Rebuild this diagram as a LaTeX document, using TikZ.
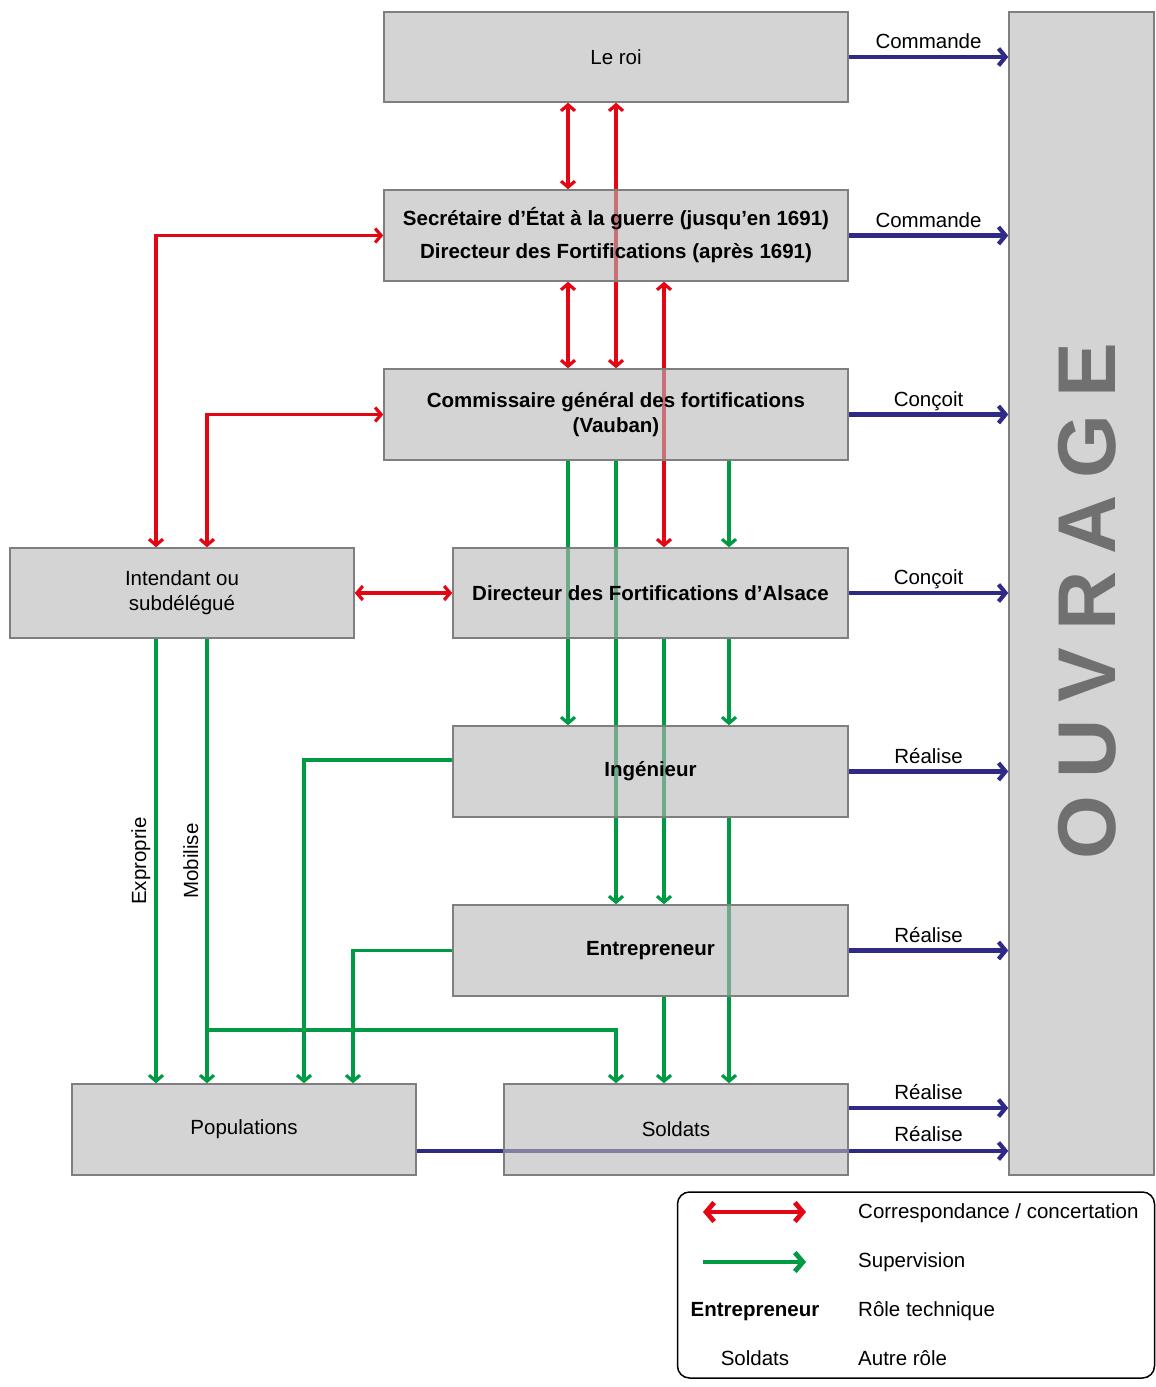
\documentclass[tikz,border=0pt]{standalone}
\usepackage{fontspec}
\setmainfont{Liberation Sans}
\usetikzlibrary{arrows.meta,backgrounds,calc}
\definecolor{redc}{HTML}{E30613}
\definecolor{greenc}{HTML}{009A44}
\definecolor{bluec}{HTML}{2E2A85}
\definecolor{boxf}{HTML}{B7B7B7}
\definecolor{boxd}{HTML}{7F7F7F}
\definecolor{ouvc}{HTML}{707070}
\newcommand\dfs{\fontsize{20.5}{25}\selectfont}
\begin{document}
\begin{tikzpicture}[x=1pt,y=-1pt,
  box/.style={draw=boxd, line width=1.5pt, fill=boxf, fill opacity=0.6, text opacity=1, draw opacity=1, inner sep=0pt, align=center, font=\dfs},
  bbox/.style={box, font=\dfs\bfseries},
  corr/.style={draw=redc, line width=3.2pt, >={Straight Barb[length=6pt,width=14pt]}, <->},
  sup/.style={draw=greenc, line width=3.2pt, >={Straight Barb[length=6pt,width=14pt]}, ->},
  act/.style={draw=bluec, line width=4.2pt, >={Straight Barb[length=7pt,width=17pt]}, ->},
  lab/.style={font=\dfs, anchor=base, yshift=8.5pt},
  txt/.style={font=\dfs, inner sep=0pt},
]
\useasboundingbox (0,0) rectangle (1156,1387);

% boxes
\node[box,  minimum width=464pt, minimum height=90pt] (roi) at (616,57) {Le roi};
\node[bbox, minimum width=464pt, minimum height=91pt] (sec) at (616,235.5) {Secrétaire d’État à la guerre (jusqu’en 1691)\\[8pt]Directeur des Fortifications (après 1691)};
\node[bbox, minimum width=464pt, minimum height=91pt] (com) at (616,414.5) {Commissaire général des fortifications\\(Vauban)};
\node[box,  minimum width=344pt, minimum height=90pt] (int) at (182,593) {Intendant ou\\subdélégué};
\node[bbox, minimum width=395pt, minimum height=90pt] (dir) at (650.5,593) {Directeur des Fortifications d’Alsace};
\node[bbox, minimum width=395pt, minimum height=91pt] (ing) at (650.5,771.5) {Ingénieur};
\node[bbox, minimum width=395pt, minimum height=91pt] (ent) at (650.5,950.5) {Entrepreneur};
\node[box,  minimum width=344pt, minimum height=91pt] (pop) at (244,1129.5) {Populations};
\node[box,  minimum width=344pt, minimum height=91pt] (sol) at (676,1129.5) {Soldats};
\node[box,  minimum width=145pt, minimum height=1163pt] (ouv) at (1081.5,593.5) {};
\node[rotate=90, inner sep=0pt, text=ouvc, font=\fontsize{82}{82}\selectfont\bfseries] (ouvt) at (1087.5,601)
  {O\hspace{17pt}U\hspace{17pt}V\hspace{17pt}R\hspace{17pt}A\hspace{17pt}G\hspace{17pt}E};

\coordinate (j1) at (207,1030);

\begin{scope}[on background layer]
% red: correspondance
\draw[corr] ($(roi.south)+(-48,0)$) -- ($(sec.north)+(-48,0)$);
\draw[corr] (roi.south) -- (com.north);
\draw[corr] ($(sec.south)+(-48,0)$) -- ($(com.north)+(-48,0)$);
\draw[corr] ($(sec.south)+(48,0)$) -- ($(dir.north)+(13.5,0)$);
\draw[corr] (sec.west) -| ($(int.north)+(-26,0)$);
\draw[corr] (com.west) -| ($(int.north)+(25,0)$);
\draw[corr] (int.east) -- (dir.west);
% green: supervision
\draw[sup] ($(com.south)+(-48,0)$) -- ($(ing.north)+(-82.5,0)$);
\draw[sup] (com.south) -- ($(ent.north)+(-34.5,0)$);
\draw[sup] ($(com.south)+(113,0)$) -- ($(dir.north)+(78.5,0)$);
\draw[sup] ($(dir.south)+(78.5,0)$) -- ($(ing.north)+(78.5,0)$);
\draw[sup] ($(dir.south)+(13.5,0)$) -- ($(ent.north)+(13.5,0)$);
\draw[sup] ($(ing.south)+(78.5,0)$) -- ($(sol.north)+(53,0)$);
\draw[sup] ($(ent.south)+(13.5,0)$) -- ($(sol.north)+(-12,0)$);
\draw[sup] ($(int.south)+(-26,0)$) -- ($(pop.north)+(-88,0)$);
\draw[sup] ($(int.south)+(25,0)$) -- ($(pop.north)+(-37,0)$);
\draw[sup] (j1) -| ($(sol.north)+(-60,0)$);
\draw[sup] ($(ing.west)+(0,-11.5)$) -| ($(pop.north)+(60,0)$);
\draw[sup] (ent.west) -| ($(pop.north)+(109,0)$);
% blue: actions on the work
\draw[act] (roi.east) -- (roi.east -| ouv.west) node[lab, midway] {Commande};
\draw[act] (sec.east) -- (sec.east -| ouv.west) node[lab, midway] {Commande};
\draw[act] (com.east) -- (com.east -| ouv.west) node[lab, midway] {Conçoit};
\draw[act] (dir.east) -- (dir.east -| ouv.west) node[lab, midway] {Conçoit};
\draw[act] (ing.east) -- (ing.east -| ouv.west) node[lab, midway] {Réalise};
\draw[act] (ent.east) -- (ent.east -| ouv.west) node[lab, midway] {Réalise};
\draw[act] ($(sol.east)+(0,-21.5)$) -- ($(sol.east -| ouv.west)+(0,-21.5)$) node[lab, midway] {Réalise};
\draw[act] ($(pop.east)+(0,21.5)$) -- ($(pop.east -| ouv.west)+(0,21.5)$);
\end{scope}
\node[font=\dfs, anchor=base] (lreal) at (928.5,1141) {Réalise};

% side labels
\node[font=\dfs, rotate=90, anchor=base, inner sep=0pt] (lexp) at (146,861) {Exproprie};
\node[font=\dfs, rotate=90, anchor=base, inner sep=0pt] (lmob) at (198,861) {Mobilise};

% legend
\node[draw=black, line width=1.5pt, rounded corners=12pt, minimum width=477pt, minimum height=186pt] (leg) at (916,1285) {};
\coordinate (lr1) at (703,1212);
\coordinate (lr2) at (806,1212);
\coordinate (lg1) at (703,1262);
\coordinate (lg2) at (806,1262);
\draw[draw=redc, line width=4.8pt, {Straight Barb[length=8pt,width=19pt]}-{Straight Barb[length=8pt,width=19pt]}] (lr1) -- (lr2);
\draw[draw=greenc, line width=4.8pt, -{Straight Barb[length=8pt,width=19pt]}] (lg1) -- (lg2);
\node[txt, anchor=base west] (l1) at (858,1218) {Correspondance / concertation};
\node[txt, anchor=base west] (l2) at (858,1267) {Supervision};
\node[txt, anchor=base west] (l3) at (858,1316) {Rôle technique};
\node[txt, anchor=base west] (l4) at (858,1365) {Autre rôle};
\node[txt, anchor=base, font=\dfs\bfseries] (l5) at (755,1316) {Entrepreneur};
\node[txt, anchor=base] (l6) at (755,1365) {Soldats};
\end{tikzpicture}
\end{document}
